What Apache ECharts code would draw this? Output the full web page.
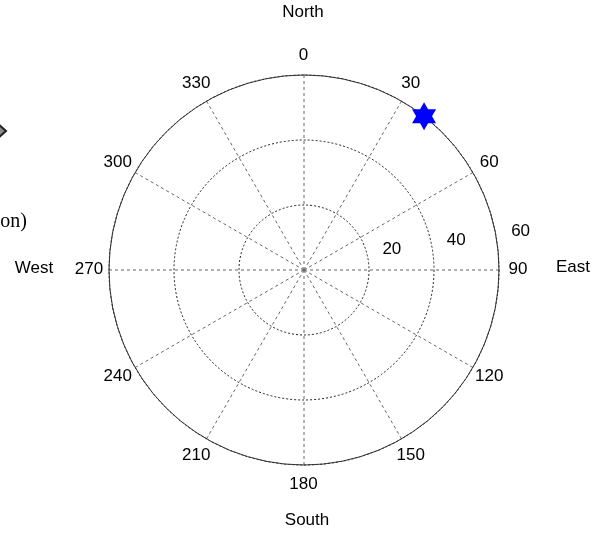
<!DOCTYPE html>
<html>
<head>
<meta charset="utf-8">
<style>
  html, body { margin: 0; padding: 0; background: #ffffff; }
  #chart { width: 597px; height: 533px; }
</style>
<script src="https://cdn.jsdelivr.net/npm/echarts@6/dist/echarts.min.js"></script>
</head>
<body>
<div id="chart"></div>
<script>
// Compass bearings (degrees clockwise from North) and their tick labels
const bearingTicks = [0, 30, 60, 90, 120, 150, 180, 210, 240, 270, 300, 330];
const bearingLabels = ['0', '30', '60', '90', '120', '150', '180', '210', '240', '270', '300', '330'];

// Elevation rings
const ringValues = [20, 40, 60];
const ringLabels = ['20', '40', '60'];

// Plotted position: [radius, bearing]
const starRadius = [60];
const starBearing = [38];

// Direction names around the plot
const directionNames = ['North', 'East', 'South', 'West'];

const RADIUS_MAX = 60;
const LABEL_RADIUS = 66;   // bearing labels sit just outside the outer ring
const RING_LABEL_BEARING = 82;

const chart = echarts.init(document.getElementById('chart'), null, { renderer: 'canvas' });

const SANS = '"Liberation Sans", Arial, sans-serif';
const textFont = '17px ' + SANS;

const numLabel = {
  show: true,
  position: [0, 0],
  align: 'center',
  verticalAlign: 'middle',
  fontFamily: SANS,
  fontSize: 17,
  color: '#000000',
  opacity: 1,
  textBorderWidth: 0
};

const hexagram = 'path://M0,-100 L86.6,50 L-86.6,50 Z M0,100 L-86.6,-50 L86.6,-50 Z';

const option = {
  animation: false,
  backgroundColor: '#ffffff',
  polar: { center: [304, 270], radius: 195 },
  angleAxis: {
    type: 'value',
    min: 0,
    max: 360,
    interval: 30,
    startAngle: 90,
    clockwise: true,
    axisLine: { show: true, lineStyle: { color: '#333', width: 1 } },
    axisTick: { show: false },
    axisLabel: { show: false },
    splitLine: { show: true, lineStyle: { color: '#666', width: 1, type: [3, 3] } }
  },
  radiusAxis: {
    type: 'value',
    min: 0,
    max: RADIUS_MAX,
    interval: 20,
    axisLine: { show: false },
    axisTick: { show: false },
    axisLabel: { show: false },
    splitLine: { show: true, lineStyle: { color: '#222', width: 1, type: [2, 2] } }
  },
  graphic: [
    { type: 'text', x: 303, y: 12, style: { text: directionNames[0], font: textFont, fill: '#000', align: 'center', verticalAlign: 'middle' } },
    { type: 'text', x: 573, y: 267, style: { text: directionNames[1], font: textFont, fill: '#000', align: 'center', verticalAlign: 'middle' } },
    { type: 'text', x: 307, y: 520, style: { text: directionNames[2], font: textFont, fill: '#000', align: 'center', verticalAlign: 'middle' } },
    { type: 'text', x: 34, y: 268, style: { text: directionNames[3], font: textFont, fill: '#000', align: 'center', verticalAlign: 'middle' } },
    { type: 'text', x: 27, y: 222, style: { text: '(elevation)', font: '20px "Liberation Serif", "Times New Roman", serif', fill: '#000', align: 'right', verticalAlign: 'middle' } },
    { type: 'polygon', shape: { points: [[-12, 131], [-3, 123], [6, 131], [-3, 139]] }, style: { fill: '#8a8a8a', stroke: '#222', lineWidth: 2 } }
  ],
  series: [
    {
      name: 'bearingLabels',
      type: 'scatter',
      coordinateSystem: 'polar',
      clip: false,
      silent: true,
      symbolSize: 1,
      itemStyle: { color: 'rgba(0,0,0,0)' },
      label: Object.assign({}, numLabel, { formatter: p => bearingLabels[p.dataIndex] }),
      data: bearingTicks.map(b => [LABEL_RADIUS, b])
    },
    {
      name: 'ringLabels',
      type: 'scatter',
      coordinateSystem: 'polar',
      clip: false,
      silent: true,
      symbolSize: 1,
      itemStyle: { color: 'rgba(0,0,0,0)' },
      label: Object.assign({}, numLabel, { offset: [24, -11.5], formatter: p => ringLabels[p.dataIndex] }),
      data: ringValues.map(r => [r, RING_LABEL_BEARING])
    },
    {
      name: 'position',
      type: 'scatter',
      coordinateSystem: 'polar',
      clip: false,
      z: 10,
      symbol: hexagram,
      symbolSize: [24, 28],
      itemStyle: { color: '#0000ff', opacity: 1 },
      data: starRadius.map((r, i) => [r, starBearing[i]])
    }
  ]
};

chart.setOption(option);
</script>
</body>
</html>
